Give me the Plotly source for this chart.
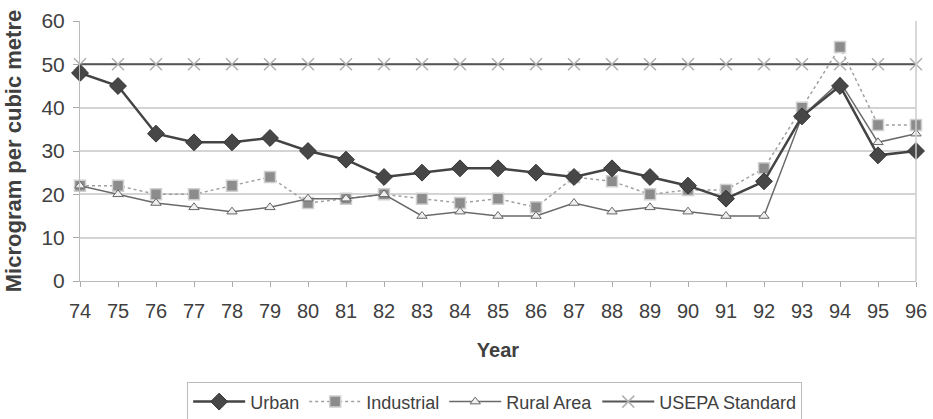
import plotly.graph_objects as go

years = ["74","75","76","77","78","79","80","81","82","83","84","85","86","87","88","89","90","91","92","93","94","95","96"]
urban = [48,45,34,32,32,33,30,28,24,25,26,26,25,24,26,24,22,19,23,38,45,29,30]
industrial = [22,22,20,20,22,24,18,19,20,19,18,19,17,24,23,20,21,21,26,40,54,36,36]
rural = [22,20,18,17,16,17,19,19,20,15,16,15,15,18,16,17,16,15,15,38,46,32,34]
usepa = [50]*23

font = "Liberation Sans, Arial, sans-serif"
txt = "#404040"
fig = go.Figure()
fig.add_trace(go.Scatter(x=years, y=usepa, name="USEPA Standard", mode="lines+markers", legendrank=4,
    cliponaxis=False, line=dict(color="#555", width=2),
    marker=dict(symbol="x-thin-open", size=12, line=dict(color="#b0b0b0", width=1.5), color="#b0b0b0")))
fig.add_trace(go.Scatter(x=years, y=industrial, name="Industrial", mode="lines+markers", legendrank=2,
    cliponaxis=False, line=dict(color="#a0a0a0", width=1.5, dash="dot"),
    marker=dict(symbol="square", size=11, color="#8c8c8c", line=dict(color="#d0d0d0", width=1.5))))
fig.add_trace(go.Scatter(x=years, y=rural, name="Rural Area", mode="lines+markers", legendrank=3,
    cliponaxis=False, line=dict(color="#6a6a6a", width=1.5),
    marker=dict(symbol="triangle-up", size=9, color="#f0f0f0", line=dict(color="#666", width=1))))
fig.add_trace(go.Scatter(x=years, y=urban, name="Urban", mode="lines+markers", legendrank=1,
    cliponaxis=False, line=dict(color="#444", width=2.5),
    marker=dict(symbol="diamond", size=13, color="#474747", line=dict(color="#333", width=1))))

fig.update_layout(
    width=933, height=419,
    margin=dict(l=80, r=17, t=21, b=138, autoexpand=False),
    paper_bgcolor="white", plot_bgcolor="white",
    font=dict(family=font, color=txt),
    legend=dict(orientation="h", x=0.496, xanchor="center", y=-0.39, yanchor="top",
                traceorder="normal", bordercolor="#bbb", borderwidth=1, itemwidth=52,
                font=dict(size=18, family=font, color=txt)),
    xaxis=dict(type="category", range=[0, 22], showgrid=False,
               ticks="outside", ticklen=5, tickcolor="#aaa", showline=True, linecolor="#bbb",
               ticklabelstandoff=7, tickfont=dict(size=20, color=txt),
               title=dict(text="<b>Year</b>", font=dict(size=20, color=txt), standoff=21)),
    yaxis=dict(range=[0, 60], dtick=10, showgrid=True, gridcolor="#d4d4d4", gridwidth=1.5,
               ticks="outside", ticklen=6, tickcolor="#aaa", showline=True, linecolor="#bbb",
               zeroline=False, ticklabelstandoff=4, tickfont=dict(size=21, color=txt),
               title=dict(text="<b>Microgram per cubic metre</b>", font=dict(size=22, color=txt), standoff=13)),
)
fig.add_shape(type="line", xref="paper", yref="paper", x0=1, x1=1, y0=0, y1=1,
              line=dict(color="#ccc", width=1.5))
fig.write_html("out.html", config={"displayModeBar": False},
               post_script="document.body.style.margin='0';document.body.style.overflow='hidden';")
